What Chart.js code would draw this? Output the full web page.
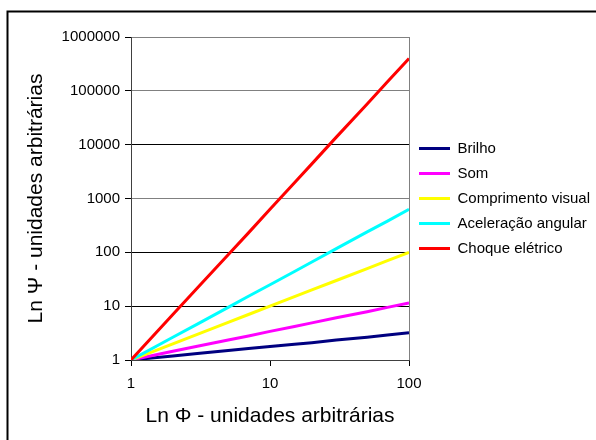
<!DOCTYPE html>
<html>
<head>
<meta charset="utf-8">
<script src="https://cdn.jsdelivr.net/npm/chart.js@4/dist/chart.umd.min.js"></script>
<style>
  html, body { margin: 0; padding: 0; background: #fff; overflow: hidden; }
  #wrap { position: relative; width: 596px; height: 440px; }
</style>
</head>
<body>
<div id="wrap"><canvas id="c" width="596" height="440"></canvas></div>
<script>
// ---- data (log-log plot) ----
const xValues = [1, 2, 3, 5, 7, 10, 15, 20, 30, 50, 70, 100];
const brilho = [1, 1.19, 1.32, 1.5, 1.63, 1.78, 1.97, 2.1, 2.35, 2.65, 2.9, 3.2];
const som = [1, 1.45, 1.8, 2.35, 2.8, 3.4, 4.2, 4.9, 6.1, 7.9, 9.5, 11.5];
const comprimentoVisual = [1, 2, 3, 5, 7, 10, 15, 20, 30, 50, 70, 100];
const aceleracaoAngular = [1, 2.65, 4.65, 9.5, 15.3, 25, 44, 66, 117, 240, 380, 630];
const choqueEletrico = [1, 7, 21.7, 90, 230, 630, 1970, 4400, 13800, 57000, 147000, 400000];
const seriesNames = ['Brilho', 'Som', 'Comprimento visual', 'Aceleração angular', 'Choque elétrico'];
const xTicks = [1, 10, 100];
const yTicks = [1, 10, 100, 1000, 10000, 100000, 1000000];
const xTitle = 'Ln Φ - unidades arbitrárias';
const yTitle = 'Ln Ψ - unidades arbitrárias';

const colors = ['#000080', '#FF00FF', '#FFFF00', '#00FFFF', '#FF0000'];
const allSeries = [brilho, som, comprimentoVisual, aceleracaoAngular, choqueEletrico];

const FONT = '"Liberation Sans", Arial, sans-serif';

const datasets = allSeries.map((vals, i) => ({
  label: seriesNames[i],
  data: xValues.map((x, j) => ({ x: x, y: vals[j] })),
  borderColor: colors[i],
  backgroundColor: colors[i],
  borderWidth: 3,
  pointRadius: 0,
  tension: 0,
  order: allSeries.length - i
}));

const frame = {
  id: 'frame',
  beforeDraw(chart) {
    const ctx = chart.ctx;
    ctx.save();
    ctx.fillStyle = '#fff';
    ctx.fillRect(0, 0, chart.width, chart.height);
    ctx.strokeStyle = '#000';
    ctx.lineWidth = 2;
    ctx.strokeRect(7.5, 11.5, 700, 600);
    ctx.restore();
  }
};

new Chart(document.getElementById('c'), {
  type: 'line',
  data: { datasets },
  plugins: [frame],
  options: {
    responsive: false,
    animation: false,
    layout: { padding: { left: 8, top: 37, right: 0, bottom: 0 } },
    plugins: {
      tooltip: { enabled: false },
      legend: {
        position: 'right',
        fullSize: false,
        maxWidth: 187,
        labels: {
          boxWidth: 31,
          boxHeight: 3,
          padding: 10,
          color: '#000',
          font: { family: FONT, size: 15 },
          generateLabels(chart) {
            return chart.data.datasets.map((d, i) => ({
              text: d.label,
              fillStyle: d.borderColor,
              strokeStyle: d.borderColor,
              lineWidth: 0,
              hidden: false,
              datasetIndex: i
            }));
          }
        }
      }
    },
    scales: {
      x: {
        type: 'logarithmic',
        min: 1,
        max: 100,
        afterBuildTicks(axis) { axis.ticks = xTicks.map(v => ({ value: v })); },
        afterFit(axis) { axis.height = 80; },
        ticks: {
          color: '#000',
          font: { family: FONT, size: 15 },
          padding: 9,
          maxRotation: 0,
          autoSkip: false,
          callback: (v) => String(v)
        },
        grid: {
          drawOnChartArea: true,
          color: (c) => (c.tick && c.tick.value === 100) ? '#808080' : 'rgba(0,0,0,0)',
          tickColor: '#000',
          tickLength: 6,
          lineWidth: 1
        },
        border: { display: true, color: '#404040', width: 1 },
        title: {
          display: true,
          text: xTitle,
          color: '#000',
          font: { family: FONT, size: 21 },
          padding: { top: 0, bottom: 11 }
        }
      },
      y: {
        type: 'logarithmic',
        min: 1,
        max: 1000000,
        afterBuildTicks(axis) { axis.ticks = yTicks.map(v => ({ value: v })); },
        afterFit(axis) { axis.width = 123; },
        ticks: {
          color: '#000',
          font: { family: FONT, size: 15 },
          padding: 5,
          autoSkip: false,
          callback: (v) => String(v)
        },
        grid: {
          color: (c) => {
            const v = c.tick && c.tick.value;
            return (v === 100000 || v === 1000 || v === 1000000) ? '#808080' : '#000';
          },
          tickColor: '#000',
          tickLength: 6,
          lineWidth: 1
        },
        border: { display: true, color: '#404040', width: 1 },
        title: {
          display: true,
          text: yTitle,
          color: '#000',
          font: { family: FONT, size: 21 },
          padding: { top: 16, bottom: 0 }
        }
      }
    }
  }
});
</script>
</body>
</html>
